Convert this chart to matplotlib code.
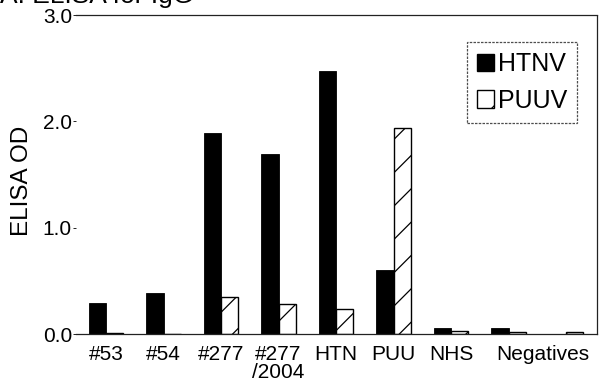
import matplotlib
matplotlib.use('Agg')
import matplotlib.pyplot as plt
import numpy as np
from matplotlib.patches import Patch

plt.rcParams['font.family'] = ['Liberation Sans', 'DejaVu Sans']
plt.rcParams['hatch.linewidth'] = 0.9

# Values (ELISA OD)
groups = ['#53', '#54', '#277', '#277\n/2004', 'HTN', 'PUU', 'NHS', 'Neg1', 'Neg2']
htnv = [0.29, 0.385, 1.89, 1.69, 2.47, 0.60, 0.055, 0.055, 0.005]
puuv = [0.01, 0.0, 0.35, 0.28, 0.235, 1.94, 0.03, 0.015, 0.015]
tick_labels = ['#53', '#54', '#277', '#277\n/2004', 'HTN', 'PUU', 'NHS', 'Negatives']
tick_pos = [0, 1, 2, 3, 4, 5, 6, 7.6]

fig = plt.figure(figsize=(5.99, 3.88), dpi=100)
ax = fig.add_axes([0.127, 0.139, 0.870, 0.822])

x = np.arange(len(groups))
w = 0.30
ax.bar(x - w/2, htnv, w, color='black', edgecolor='black', linewidth=0.6, label='HTNV')
ax.bar(x + w/2, puuv, w, color='white', edgecolor='black', linewidth=1.0,
       hatch='/', label='PUUV')

ax.set_xlim(-0.52, 8.54)
ax.set_ylim(0, 3.0)
ax.set_yticks([0, 1, 2, 3])
ax.set_yticklabels(['0.0', '1.0', '2.0', '3.0'], fontsize=15)
ax.set_xticks(tick_pos)
ax.set_xticklabels(tick_labels, fontsize=15, linespacing=0.95)
ax.tick_params(axis='x', length=0, pad=8)
ax.tick_params(axis='y', length=2, width=0.6, pad=1)
ax.set_ylabel('ELISA OD', fontsize=17.5)
ax.yaxis.set_label_coords(-0.082, 0.48)

ax.spines['left'].set_visible(False)
for s in ['top', 'right', 'bottom']:
    ax.spines[s].set_linestyle((0, (3, 1)))
    ax.spines[s].set_linewidth(0.9)
    ax.spines[s].set_color('#222222')

handles = [Patch(facecolor='black', edgecolor='black', label='HTNV'),
           Patch(facecolor='white', edgecolor='black', hatch='/', label='PUUV')]
leg = ax.legend(handles=handles, loc='upper right', bbox_to_anchor=(0.962, 0.915),
                fontsize=18, frameon=True, fancybox=False, handlelength=0.7,
                handleheight=0.7, handletextpad=0.15, borderpad=0.4, labelspacing=0.5,
                borderaxespad=0)
leg.get_frame().set_edgecolor('#222222')
leg.get_frame().set_linestyle((0, (2, 1)))
leg.get_frame().set_linewidth(0.9)

fig.text(0.0, 1 - 3/388, 'A: ELISA for IgG', fontsize=19, ha='left', va='baseline')

fig.savefig('out.png', dpi=100)
